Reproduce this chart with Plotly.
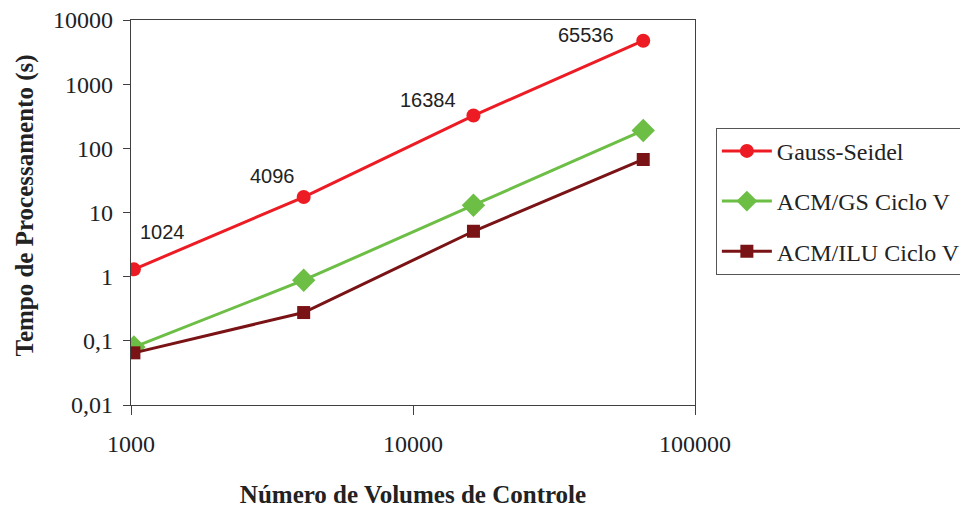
import math
import plotly.graph_objects as go

volumes = [1024, 4096, 16384, 65536]
vol_labels = ["1024", "4096", "16384", "65536"]
gauss_seidel = [1.3, 17.4, 324, 4760]
acm_gs = [0.08, 0.88, 13.0, 190]
acm_ilu = [0.065, 0.276, 5.1, 67]

# pixel offsets of the data labels from the Gauss-Seidel points
label_dx = [29, -31, -45, -57]
label_dy = [37, 21, 16, 6]

serif = "Liberation Serif, Times New Roman, serif"

fig = go.Figure()
fig.add_trace(go.Scatter(x=volumes, y=gauss_seidel, name="Gauss-Seidel", legendgroup="a",
                         mode="lines+markers", line=dict(color="#ED1C24", width=3),
                         marker=dict(symbol="circle", size=14, color="#ED1C24")))
fig.add_trace(go.Scatter(x=volumes, y=acm_gs, name="ACM/GS Ciclo V", legendgroup="b",
                         mode="lines+markers", line=dict(color="#6CBE45", width=3),
                         marker=dict(symbol="diamond", size=18, color="#6CBE45")))
fig.add_trace(go.Scatter(x=volumes, y=acm_ilu, name="ACM/ILU Ciclo V", legendgroup="c",
                         mode="lines+markers", line=dict(color="#7A1315", width=3),
                         marker=dict(symbol="square", size=13, color="#7A1315")))

# annotations on log axes take log10 positions
for xv, yv, txt, dx, dy in zip(volumes, gauss_seidel, vol_labels, label_dx, label_dy):
    fig.add_annotation(x=math.log10(xv), y=math.log10(yv), xref="x", yref="y", text=txt,
                       showarrow=False, xshift=dx, yshift=dy,
                       font=dict(family="Liberation Sans, Arial, sans-serif", size=20, color="#222"))

# y title as an annotation so it can sit closer to the page edge
fig.add_annotation(x=0, y=0.5, xref="paper", yref="paper", text="<b>Tempo de Processamento (s)</b>",
                   textangle=-90, showarrow=False, xanchor="center", yanchor="middle",
                   xshift=-107, yshift=7,
                   font=dict(family=serif, size=25, color="#222"))

fig.update_xaxes(type="log", range=[3, 5.00001], tickvals=[1000, 10000, 100000],
                 ticktext=["1000", "10000", "100000"],
                 showline=True, linecolor="#404040", linewidth=1.3, mirror=True,
                 ticks="outside", ticklen=9, tickcolor="#404040", showgrid=False,
                 zeroline=False, ticklabelstandoff=8, ticklabeloverflow="allow",
                 tickfont=dict(family=serif, size=24, color="#222"),
                 title=dict(text="<b>Número de Volumes de Controle</b>", standoff=29,
                            font=dict(family=serif, size=25, color="#222")))
fig.update_yaxes(type="log", range=[-2.00001, 4.00001],
                 tickvals=[0.01, 0.1, 1, 10, 100, 1000, 10000],
                 ticktext=["0,01", "0,1", "1", "10", "100", "1000", "10000"],
                 showline=True, linecolor="#404040", linewidth=1.3, mirror=True,
                 ticks="outside", ticklen=7, tickcolor="#404040", showgrid=False,
                 zeroline=False, ticklabelstandoff=5, ticklabeloverflow="allow",
                 tickfont=dict(family=serif, size=24, color="#222"))

# the page body adds an 8px margin, so the figure is 8px smaller and margins shifted
fig.update_layout(
    width=960, height=503,
    margin=dict(l=123, r=273, t=12, b=106, autoexpand=False),
    paper_bgcolor="white", plot_bgcolor="white",
    showlegend=True,
    legend=dict(x=1.037, y=0.72, xanchor="left", yanchor="top",
                bordercolor="#555", borderwidth=1, bgcolor="white",
                font=dict(family=serif, size=24, color="#222"),
                itemwidth=50, tracegroupgap=16, traceorder="grouped"),
)

fig.write_html("out.html")
